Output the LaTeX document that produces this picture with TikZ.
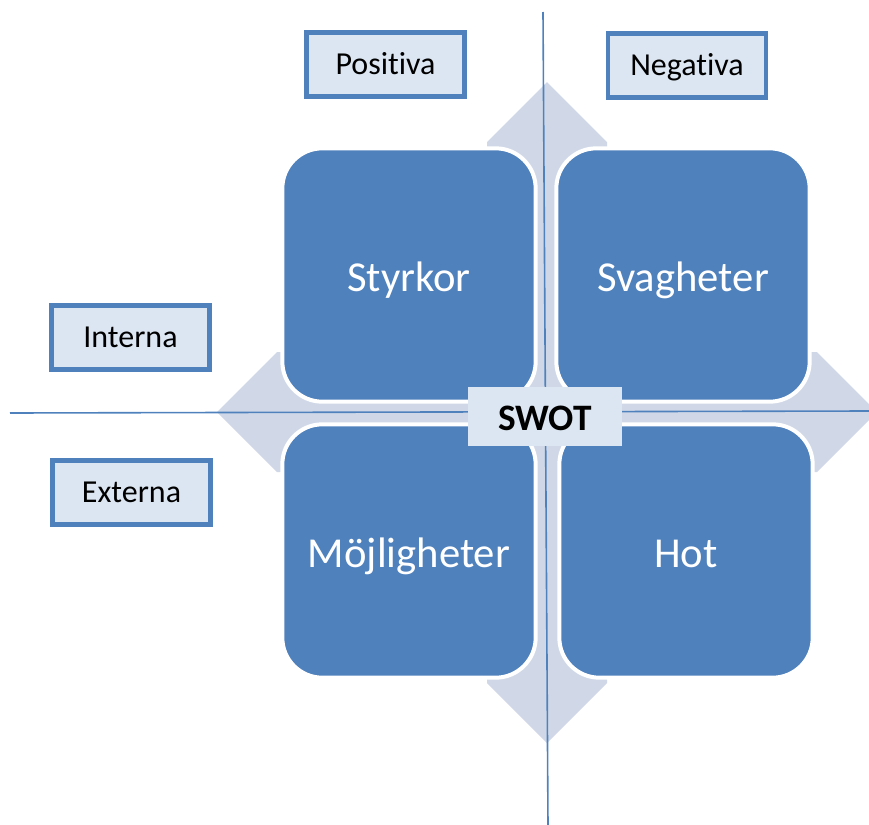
\documentclass[tikz,border=0pt]{standalone}
\usepackage{fontspec}
\setmainfont{Carlito}[Ligatures=CommonOff]
\usepackage{tikz}
\usetikzlibrary{shapes,calc}
\definecolor{bleu}{HTML}{4F81BD}
\definecolor{clair}{HTML}{DCE6F2}
\definecolor{gris}{HTML}{D0D8E8}

\begin{document}
\begin{tikzpicture}[x=0.75pt,y=-0.75pt,
  etiquette/.style={draw=bleu,line width=3.5pt,fill=clair,minimum width=118.5pt,minimum height=48pt,text height=15.5pt,text depth=0pt,font=\fontsize{24}{28}\selectfont},
  carre/.style={draw=white,line width=3pt,fill=bleu,rounded corners=30pt,minimum size=190pt,text=white,text height=25pt,text depth=0pt,font=\fontsize{32}{38}\selectfont},
  axe/.style={bleu,line width=1.2pt}]
  \clip (0,0) rectangle (869,825);

  % croix
  \fill[gris] (487,142) -- (547,82) -- (607,142) -- (607,352) -- (817,352)
    -- (877,412) -- (817,472) -- (607,472) -- (607,683) -- (547,743)
    -- (487,683) -- (487,472) -- (277,472) -- (217,412) -- (277,352)
    -- (487,352) -- cycle;

  % axes
\coordinate (h1) at (10,413);
\coordinate (h2) at (869,411);
\coordinate (v1) at (543,12);
\coordinate (v2) at (548,825);
  \draw[axe] (h1) -- (h2);
  \draw[axe] (v1) -- (v2);

  % les quatre carres
  \node[carre] (s) at (409,275) {Styrkor};
  \node[carre] (w) at (683,275) {Svagheter};
  \node[carre] (o) at (409,551) {Möjligheter};
  \node[carre] (t) at (686,551) {Hot};

  \node[fill=clair,minimum width=115.5pt,minimum height=44pt,text height=21.5pt,text depth=0pt,font=\fontsize{28}{32}\selectfont\bfseries] (swot) at (545,416.5) {SWOT};

  % etiquettes
  \node[etiquette] (pos) at (385.5,64.5) {Positiva};
  \node[etiquette] (neg) at (687,65.5) {Negativa};
  \node[etiquette] (int) at (130.5,337.5) {Interna};
  \node[etiquette] (ext) at (131.5,492.5) {Externa};
\end{tikzpicture}
\end{document}
